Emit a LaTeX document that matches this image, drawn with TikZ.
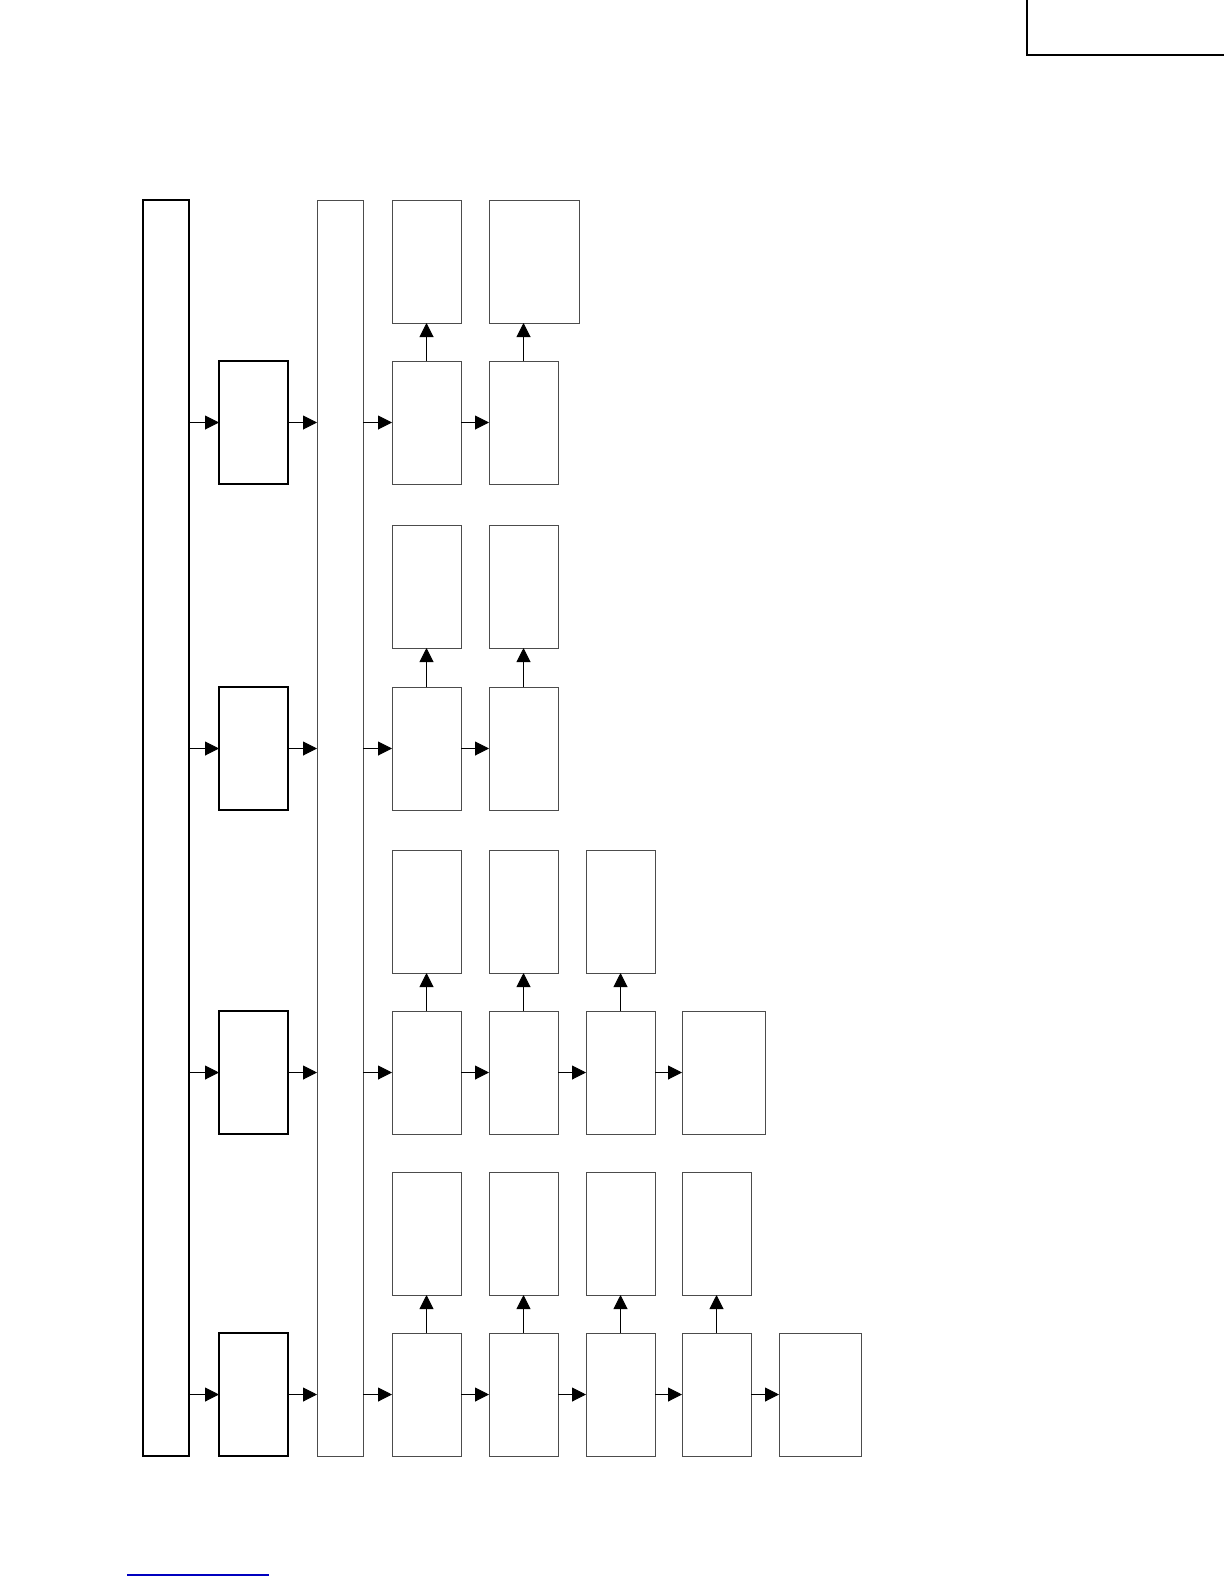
\documentclass[tikz,border=0pt]{standalone}
\usetikzlibrary{arrows.meta}

\begin{document}
\begin{tikzpicture}[x=0.5pt,y=-0.5pt,
   box/.style={draw=black!70,line width=0.5pt,inner sep=0pt,outer sep=0pt,
     minimum width=34.5pt,minimum height=61.5pt,anchor=north west},
   heavybox/.style={box,draw=black,line width=1pt},
   bar/.style={box,minimum width=23pt,minimum height=628pt},
   flow/.style={-{Triangle[length=7pt,width=7pt]},line width=0.5pt}]
\useasboundingbox (0,0) rectangle (1224,1584);
% frame in the corner
\draw[line width=1pt] (1027,-10) -- (1027,55) -- (1240,55);
% the two long bars
\node[bar,draw=black,line width=1pt] (bar1) at (143,200) {};
\node[bar] (bar2) at (317,200) {};
% rows
\foreach \r/\y in {1/361,2/687,3/1011,4/1333}{
   \node[heavybox] (s\r) at (219,\y) {};
   \draw[flow] (s\r.west -| bar1.east) -- (s\r.west);
   \draw[flow] (s\r.east) -- (s\r.east -| bar2.west);
}
% row 1
\node[box] (m11) at (392,361) {};
\node[box] (m12) at (489,361) {};
\node[box] (u11) at (392,200) {};
\node[box,minimum width=45pt] (u12) at (489,200) {};
% row 2
\node[box] (m21) at (392,687) {};
\node[box] (m22) at (489,687) {};
\node[box] (u21) at (392,525) {};
\node[box] (u22) at (489,525) {};
% row 3
\node[box] (m31) at (392,1011) {};
\node[box] (m32) at (489,1011) {};
\node[box] (m33) at (586,1011) {};
\node[box,minimum width=41.5pt] (m34) at (682,1011) {};
\node[box] (u31) at (392,850) {};
\node[box] (u32) at (489,850) {};
\node[box] (u33) at (586,850) {};
% row 4
\node[box] (m41) at (392,1333) {};
\node[box] (m42) at (489,1333) {};
\node[box] (m43) at (586,1333) {};
\node[box] (m44) at (682,1333) {};
\node[box,minimum width=41pt] (m45) at (779,1333) {};
\node[box] (u41) at (392,1172) {};
\node[box] (u42) at (489,1172) {};
\node[box] (u43) at (586,1172) {};
\node[box] (u44) at (682,1172) {};
% horizontal flow
\foreach \r in {1,2,3,4}
   \draw[flow] (m\r1.west -| bar2.east) -- (m\r1.west);
\foreach \a/\b in {11/12,21/22,31/32,32/33,33/34,41/42,42/43,43/44,44/45}
   \draw[flow] (m\a.east) -- (m\b.west);
% upward flow
\foreach \a in {11,12,21,22,31,32,33,41,42,43,44}
   \draw[flow] (m\a.north) -- (m\a.north |- u\a.south);
% blue rule at the foot
\draw[blue!75!black,line width=0.6pt] (127,1575) -- (269,1575);
\end{tikzpicture}
\end{document}
